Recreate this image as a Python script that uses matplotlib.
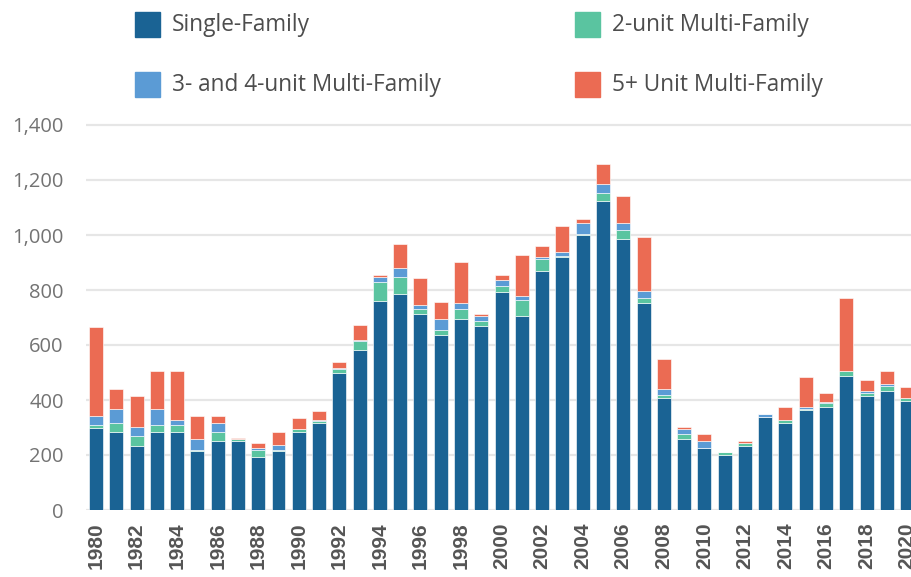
import numpy as np
import matplotlib.pyplot as plt
from matplotlib.patches import Rectangle

# housing permits by structure type, 1980-2020
years = list(range(1980, 2021))
single_family = [300, 285, 234, 284, 284, 216, 250, 250, 193, 216,
                 284, 316, 497, 583, 761, 787, 714, 638, 696, 670,
                 794, 704, 870, 919, 1001, 1125, 985, 754, 408, 258,
                 224, 201, 234, 339, 317, 365, 373, 488, 416, 431,
                 398]
two_unit = [9, 31, 34, 24, 24, 2, 34, 9, 24, 2,
            9, 8, 16, 32, 67, 59, 17, 18, 34, 18,
            19, 58, 42, 3, 2, 27, 33, 16, 9, 17,
            1, 10, 8, 1, 9, 1, 17, 17, 8, 19,
            10]
three_four_unit = [33, 50, 33, 58, 18, 41, 32, 1, 10, 17,
                   2, 4, 3, 2, 18, 33, 14, 40, 24, 16,
                   25, 17, 7, 15, 39, 32, 24, 25, 23, 18,
                   25, 0, 2, 9, 1, 10, 2, 1, 9, 7,
                   1]
five_plus = [322, 74, 115, 141, 181, 83, 26, 1, 15, 49,
             40, 31, 23, 56, 7, 90, 100, 59, 149, 9,
             15, 148, 41, 97, 18, 74, 100, 198, 108, 8,
             26, 0, 7, 1, 48, 107, 32, 265, 40, 50,
             39]
series_names = ['Single-Family', '2-unit Multi-Family',
                '3- and 4-unit Multi-Family', '5+ Unit Multi-Family']
colors = ['#1a6394', '#5ac4a0', '#5b9bd5', '#eb6b53']

W, H = 912, 577
fig = plt.figure(figsize=(W / 100, H / 100), dpi=100)
# axes placed in pixel terms: left 86, right 912, zero at y=510
ax = fig.add_axes([86 / W, 67 / H, 1 - 86 / W, (510 - 119.5) / H])

x = np.array(years)
bottom = np.zeros(len(years))
for vals, name, c in zip([single_family, two_unit, three_four_unit, five_plus],
                         series_names, colors):
    v = np.array(vals, dtype=float)
    ax.bar(x, v, width=0.69, bottom=bottom, color=c, label=name,
           edgecolor=(1, 1, 1, 0.7), linewidth=0.6, zorder=3)
    bottom += v

ax.set_ylim(0, 1420)
ax.set_xlim(1979.507, 2020.24)
ax.set_yticks(range(0, 1401, 200))
ax.set_yticklabels([f'{v:,}' for v in range(0, 1401, 200)],
                   fontfamily='Open Sans', fontsize=14.5, color='#737373')
ax.set_xticks(years[::2])
ax.set_xticklabels([str(y) for y in years[::2]], rotation=90,
                   fontfamily='Liberation Sans', fontweight='bold',
                   fontsize=15, color='#555555')
ax.tick_params(axis='y', length=0, pad=16)
ax.tick_params(axis='x', length=0, pad=9)
ax.grid(axis='y', color='#e6e6e6', linewidth=1.6, zorder=0)
for s in ax.spines.values():
    s.set_visible(False)

# legend, two columns at the top
legend_pos = [(135, 24), (575, 24), (135, 84), (575, 84)]
for (px, py), i in zip(legend_pos, range(4)):
    fig.add_artist(Rectangle((px / W, 1 - (py + 12.5) / H), 25 / W, 25 / H,
                             transform=fig.transFigure, color=colors[i]))
    fig.text((px + 37) / W, 1 - (py + 1) / H, series_names[i], va='center',
             ha='left', fontfamily='Open Sans', fontsize=16.3, color='#4d4d4d')

fig.savefig('out.png', dpi=100)
